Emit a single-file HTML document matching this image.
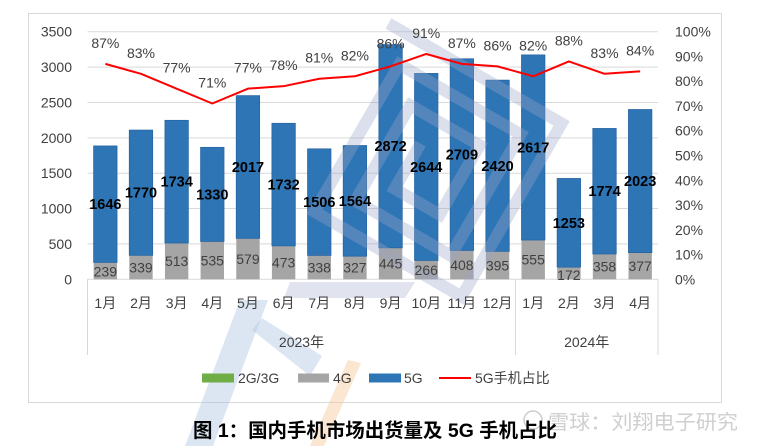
<!DOCTYPE html>
<html><head><meta charset="utf-8"><style>
html,body{margin:0;padding:0;background:#fff;}
svg{display:block;}
text{font-family:"Liberation Sans","Noto Sans CJK SC",sans-serif;}
</style></head><body>
<svg width="760" height="446" viewBox="0 0 760 446" xmlns="http://www.w3.org/2000/svg">
<rect x="0" y="0" width="760" height="446" fill="#fff"/>
<rect x="28.5" y="13.5" width="693" height="389" fill="none" stroke="#d9d9d9" stroke-width="1"/>
<!-- gridlines -->
<g stroke="#d9d9d9" stroke-width="1">
<line x1="87.5" x2="658" y1="31.7" y2="31.7"/>
<line x1="87.5" x2="658" y1="67.07" y2="67.07"/>
<line x1="87.5" x2="658" y1="102.44" y2="102.44"/>
<line x1="87.5" x2="658" y1="137.82" y2="137.82"/>
<line x1="87.5" x2="658" y1="173.19" y2="173.19"/>
<line x1="87.5" x2="658" y1="208.56" y2="208.56"/>
<line x1="87.5" x2="658" y1="243.93" y2="243.93"/>
<line x1="87.5" x2="658" y1="279.3" y2="279.3"/>
<line x1="87.5" x2="87.5" y1="279.3" y2="355"/>
<line x1="515.4" x2="515.4" y1="279.3" y2="355"/>
<line x1="658" x2="658" y1="279.3" y2="355"/>
</g>
<!-- 4G bars -->
<g fill="#a5a5a5">
<rect x="93.63" y="262.39" width="23.4" height="16.91"/>
<rect x="129.28" y="255.32" width="23.4" height="23.98"/>
<rect x="164.94" y="243.01" width="23.4" height="36.29"/>
<rect x="200.60" y="241.45" width="23.4" height="37.85"/>
<rect x="236.25" y="238.34" width="23.4" height="40.96"/>
<rect x="271.91" y="245.84" width="23.4" height="33.46"/>
<rect x="307.56" y="255.39" width="23.4" height="23.91"/>
<rect x="343.22" y="256.17" width="23.4" height="23.13"/>
<rect x="378.88" y="247.82" width="23.4" height="31.48"/>
<rect x="414.53" y="260.48" width="23.4" height="18.82"/>
<rect x="450.19" y="250.44" width="23.4" height="28.86"/>
<rect x="485.85" y="251.36" width="23.4" height="27.94"/>
<rect x="521.50" y="240.04" width="23.4" height="39.26"/>
<rect x="557.16" y="267.13" width="23.4" height="12.17"/>
<rect x="592.82" y="253.97" width="23.4" height="25.33"/>
<rect x="628.47" y="252.63" width="23.4" height="26.67"/>
</g>
<!-- 5G bars -->
<g fill="#2e75b6" stroke="#2866a3" stroke-width="0.8">
<rect x="93.63" y="145.95" width="23.4" height="116.44"/>
<rect x="129.28" y="130.10" width="23.4" height="125.22"/>
<rect x="164.94" y="120.34" width="23.4" height="122.67"/>
<rect x="200.60" y="147.36" width="23.4" height="94.09"/>
<rect x="236.25" y="95.65" width="23.4" height="142.69"/>
<rect x="271.91" y="123.31" width="23.4" height="122.53"/>
<rect x="307.56" y="148.85" width="23.4" height="106.54"/>
<rect x="343.22" y="145.53" width="23.4" height="110.64"/>
<rect x="378.88" y="44.65" width="23.4" height="203.17"/>
<rect x="414.53" y="73.44" width="23.4" height="187.04"/>
<rect x="450.19" y="58.80" width="23.4" height="191.64"/>
<rect x="485.85" y="80.16" width="23.4" height="171.20"/>
<rect x="521.50" y="54.91" width="23.4" height="185.13"/>
<rect x="557.16" y="178.49" width="23.4" height="88.64"/>
<rect x="592.82" y="128.47" width="23.4" height="125.50"/>
<rect x="628.47" y="109.52" width="23.4" height="143.11"/>
</g>
<!-- watermark -->
<g transform="translate(425,160) rotate(30)" fill="none" stroke="#9aa6c8" stroke-opacity="0.35" stroke-width="12">
<path d="M -100 -100 H 100 V 100 H -70 V -70 H 70 V 70 H -40 V -40 H 40 V 40 H -12 V -12"/>
</g>
<polygon points="240,300 268,300 213,446 185,446" fill="#a8c0e0" fill-opacity="0.4"/>
<polygon points="252,330 262,318 322,356 310,376" fill="#a8c0e0" fill-opacity="0.4"/>
<polygon points="290,282 415,282 405,298 284,298" fill="#9aa6c8" fill-opacity="0.3"/>
<polygon points="348,360 361,363 324,446 310,446" fill="#f5c89a" fill-opacity="0.45"/>
<!-- line -->
<polyline fill="none" stroke="#ff0000" stroke-width="2" stroke-linejoin="round" points="105.33,63.89 140.98,73.79 176.64,88.65 212.30,103.50 247.95,88.65 283.61,86.17 319.26,78.74 354.92,76.27 390.58,66.36 426.23,53.98 461.89,63.89 497.55,66.36 533.20,76.27 568.86,61.41 604.52,73.79 640.17,71.32"/>
<!-- left axis labels -->
<g font-size="14" fill="#404040" text-anchor="end">
<text x="72" y="36.7">3500</text>
<text x="72" y="72.07">3000</text>
<text x="72" y="107.44">2500</text>
<text x="72" y="142.82">2000</text>
<text x="72" y="178.19">1500</text>
<text x="72" y="213.56">1000</text>
<text x="72" y="248.93">500</text>
<text x="72" y="284.3">0</text>
</g>
<!-- right axis labels -->
<g font-size="14" fill="#404040" text-anchor="start">
<text x="675" y="36.7">100%</text>
<text x="675" y="61.46">90%</text>
<text x="675" y="86.22">80%</text>
<text x="675" y="110.98">70%</text>
<text x="675" y="135.74">60%</text>
<text x="675" y="160.5">50%</text>
<text x="675" y="185.26">40%</text>
<text x="675" y="210.02">30%</text>
<text x="675" y="234.78">20%</text>
<text x="675" y="259.54">10%</text>
<text x="675" y="284.3">0%</text>
</g>
<!-- pct labels -->
<g font-size="14" fill="#404040" text-anchor="middle">
<text x="105.33" y="47.9">87%</text>
<text x="140.98" y="57.8">83%</text>
<text x="176.64" y="72.7">77%</text>
<text x="212.30" y="87.5">71%</text>
<text x="247.95" y="72.7">77%</text>
<text x="283.61" y="70.2">78%</text>
<text x="319.26" y="62.7">81%</text>
<text x="354.92" y="60.3">82%</text>
<text x="390.58" y="48.4">86%</text>
<text x="426.23" y="38.0">91%</text>
<text x="461.89" y="47.9">87%</text>
<text x="497.55" y="50.4">86%</text>
<text x="533.20" y="50.3">82%</text>
<text x="568.86" y="45.4">88%</text>
<text x="604.52" y="57.8">83%</text>
<text x="640.17" y="55.3">84%</text>
</g>
<!-- 5G labels -->
<g font-size="14.5" font-weight="bold" fill="#000" text-anchor="middle">
<text x="105.33" y="209.17">1646</text>
<text x="140.98" y="197.71">1770</text>
<text x="176.64" y="186.68">1734</text>
<text x="212.30" y="199.41">1330</text>
<text x="247.95" y="172.0">2017</text>
<text x="283.61" y="189.58">1732</text>
<text x="319.26" y="207.12">1506</text>
<text x="354.92" y="205.85">1564</text>
<text x="390.58" y="151.24">2872</text>
<text x="426.23" y="171.96">2644</text>
<text x="461.89" y="159.62">2709</text>
<text x="497.55" y="170.76">2420</text>
<text x="533.20" y="152.48">2617</text>
<text x="568.86" y="227.81">1253</text>
<text x="604.52" y="196.22">1774</text>
<text x="640.17" y="186.08">2023</text>
</g>
<!-- 4G labels -->
<g font-size="14" fill="#404040" text-anchor="middle">
<text x="105.33" y="276.35">239</text>
<text x="140.98" y="272.31">339</text>
<text x="176.64" y="266.16">513</text>
<text x="212.30" y="265.38">535</text>
<text x="247.95" y="263.82">579</text>
<text x="283.61" y="267.57">473</text>
<text x="319.26" y="272.35">338</text>
<text x="354.92" y="272.74">327</text>
<text x="390.58" y="268.56">445</text>
<text x="426.23" y="274.89">266</text>
<text x="461.89" y="269.87">408</text>
<text x="497.55" y="270.33">395</text>
<text x="533.20" y="264.67">555</text>
<text x="568.86" y="280.22">172</text>
<text x="604.52" y="271.64">358</text>
<text x="640.17" y="270.97">377</text>
</g>
<!-- month labels -->
<g font-size="14" fill="#404040" text-anchor="middle">
<text x="105.33" y="308">1月</text>
<text x="140.98" y="308">2月</text>
<text x="176.64" y="308">3月</text>
<text x="212.30" y="308">4月</text>
<text x="247.95" y="308">5月</text>
<text x="283.61" y="308">6月</text>
<text x="319.26" y="308">7月</text>
<text x="354.92" y="308">8月</text>
<text x="390.58" y="308">9月</text>
<text x="426.23" y="308">10月</text>
<text x="461.89" y="308">11月</text>
<text x="497.55" y="308">12月</text>
<text x="533.20" y="308">1月</text>
<text x="568.86" y="308">2月</text>
<text x="604.52" y="308">3月</text>
<text x="640.17" y="308">4月</text>
<text x="301.5" y="347">2023年</text>
<text x="586.7" y="347">2024年</text>
</g>
<!-- legend -->
<rect x="202" y="373.5" width="32" height="9" fill="#70ad47"/>
<rect x="298" y="373.5" width="31" height="9" fill="#a5a5a5"/>
<rect x="369" y="373.5" width="32" height="9" fill="#2e75b6"/>
<line x1="439" x2="471" y1="378" y2="378" stroke="#ff0000" stroke-width="2"/>
<g font-size="14" fill="#404040">
<text x="238" y="383">2G/3G</text>
<text x="333" y="383">4G</text>
<text x="404" y="383">5G</text>
<text x="475" y="383">5G手机占比</text>
</g>
<!-- watermark text -->
<circle cx="533" cy="420" r="9" fill="none" stroke="#cccccc" stroke-width="1.5"/>
<text x="548" y="429" font-size="20" fill="#cfcfcf" textLength="190" lengthAdjust="spacingAndGlyphs">雪球：刘翔电子研究</text>
<!-- title -->
<text x="193" y="437" font-size="19.5" font-weight="bold" fill="#000" textLength="364" lengthAdjust="spacingAndGlyphs">图 1：国内手机市场出货量及 5G 手机占比</text>
</svg>
</body></html>
